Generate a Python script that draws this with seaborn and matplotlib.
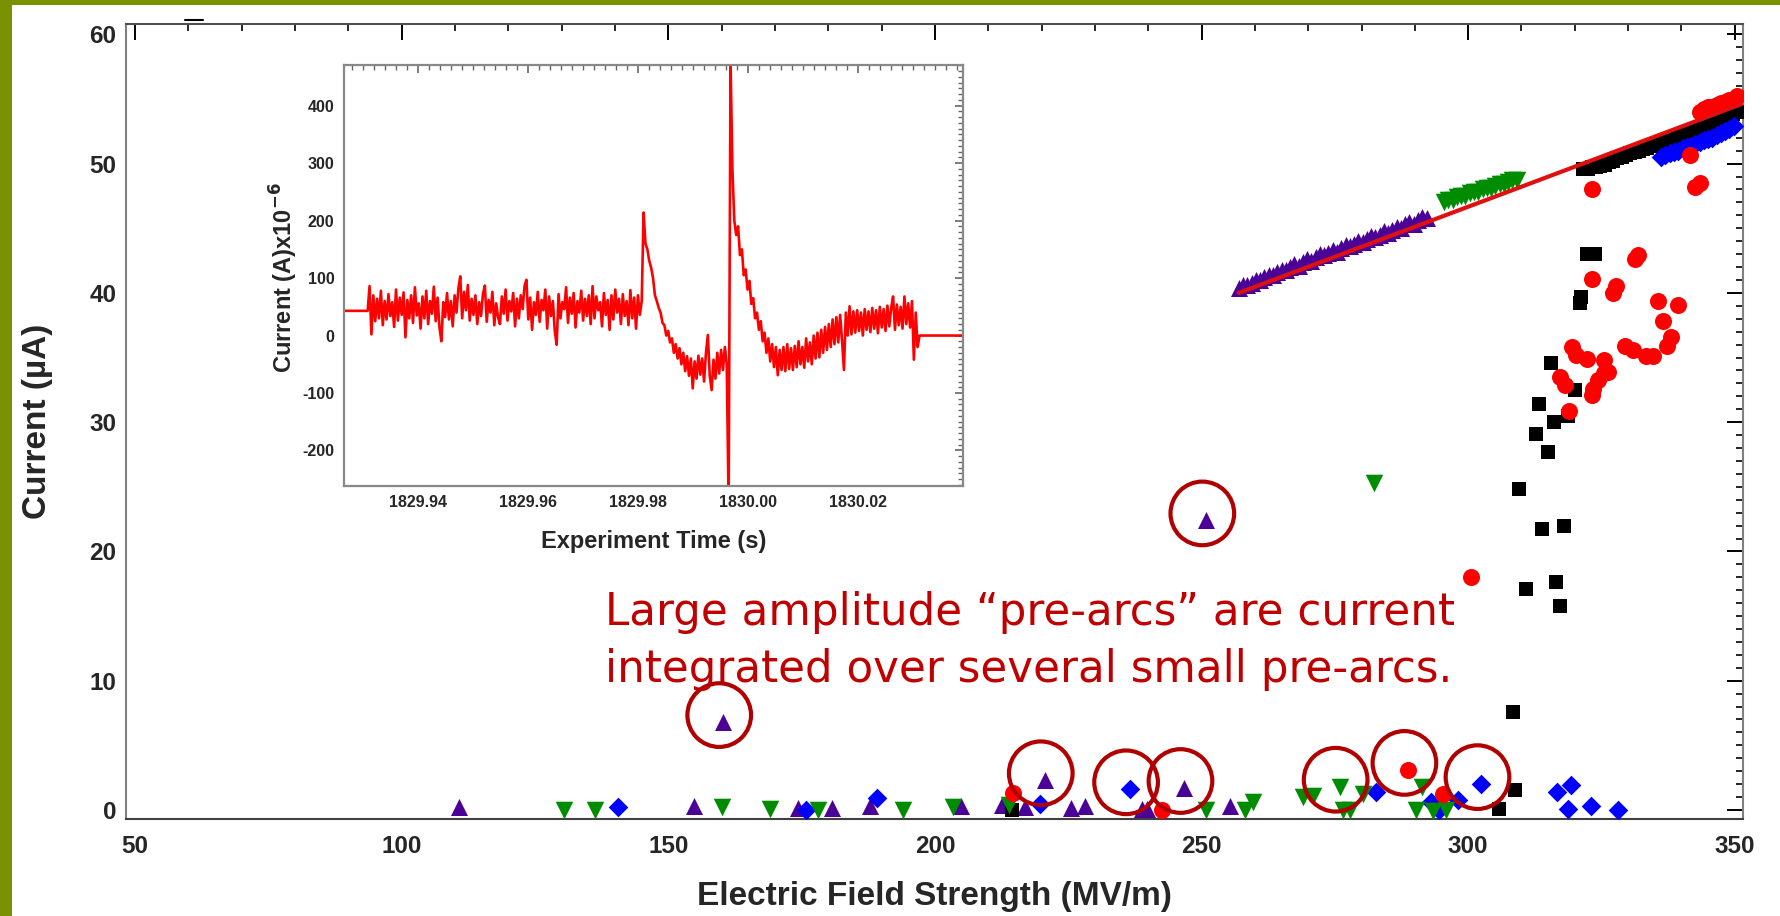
import numpy as np
import pandas as pd
import matplotlib
matplotlib.use("Agg")
import matplotlib.pyplot as plt
import matplotlib.transforms as mtransforms
from matplotlib.lines import Line2D
from matplotlib.patches import Rectangle
from matplotlib.ticker import MultipleLocator, FormatStrFormatter
import seaborn as sns

# ---------------- main panel: current vs. electric field ----------------
purple_x = [110.8, 154.9, 160.3, 174.3, 180.7, 187.9, 204.9, 212.5, 216.9, 220.6,
            225.6, 228.1, 238.8, 239.7, 246.8, 250.9, 255.3,
            257.0, 257.8, 258.6, 259.4, 260.2, 261.0, 261.8, 262.6, 263.4, 264.2,
            265.0, 265.8, 266.6, 267.4, 268.2, 269.0, 269.8, 270.6, 271.4, 272.2,
            273.0, 273.8, 274.6, 275.4, 276.2, 277.0, 277.8, 278.6, 279.4, 280.2,
            281.0, 281.8, 282.6, 283.4, 284.2, 285.0, 285.8, 286.6, 287.4, 288.2,
            289.0, 289.8, 290.6, 291.4, 292.2]
purple_y = [0.2, 0.3, 6.8, 0.15, 0.15, 0.3, 0.3, 0.4, 0.26, 2.3,
            0.13, 0.3, 0.1, 0.05, 1.7, 22.4, 0.3,
            40.4, 40.6, 40.6, 40.8, 41.0, 41.0, 41.2, 41.4, 41.4, 41.6,
            41.8, 41.8, 42.0, 42.2, 42.1, 42.4, 42.6, 42.5, 42.8, 43.0,
            42.9, 43.1, 43.3, 43.2, 43.5, 43.7, 43.6, 43.8, 44.0, 43.9,
            44.2, 44.4, 44.3, 44.5, 44.8, 44.6, 44.9, 45.1, 45.0, 45.3,
            45.5, 45.3, 45.6, 45.9, 45.8]

green_x = [130.5, 136.3, 160.1, 169.0, 178.0, 194.1, 203.3, 213.8, 250.9, 258.1,
           259.7, 269.1, 270.9, 275.9, 276.6, 277.8, 280.3, 282.3, 290.3, 291.3,
           293.4, 295.9,
           295.5, 296.3, 297.1, 297.9, 298.7, 299.5, 300.3, 301.1, 301.9, 302.7,
           303.5, 304.3, 305.1, 305.9, 306.7, 307.5, 308.3, 309.1]
green_y = [0.0, 0.0, 0.2, 0.1, 0.0, 0.0, 0.2, 0.4, 0.0, 0.0,
           0.6, 1.0, 1.1, 1.8, 0.0, 0.0, 1.2, 25.3, 0.0, 1.8,
           -0.1, 0.0,
           47.0, 47.2, 47.2, 47.4, 47.5, 47.5, 47.7, 47.8, 47.8, 48.0,
           48.1, 48.1, 48.3, 48.4, 48.4, 48.6, 48.7, 48.7]

black_x = [214.4, 305.8, 308.8, 308.5,
           309.5, 313.9, 318.0, 310.8, 316.4, 317.3, 315.0, 312.8, 316.1, 313.3,
           318.8, 320.0, 315.6, 321.2, 320.9, 322.2, 323.8,
           321.6, 322.4, 323.2, 324.0, 324.8, 325.6, 326.4, 327.2, 328.0, 328.8,
           329.6, 330.4, 331.2, 332.0, 332.8, 333.6, 334.4, 335.2, 336.0, 336.8,
           337.6, 338.4, 339.2, 340.0, 340.8, 341.6, 342.4, 343.2, 344.0, 344.8,
           345.6, 346.4, 347.2, 348.0, 348.8, 349.6, 350.4]
black_y = [0.0, 0.1, 1.55, 7.6,
           24.8, 21.7, 22.0, 17.1, 17.6, 15.8, 27.7, 29.1, 30.0, 31.4,
           30.5, 32.5, 34.6, 39.7, 39.2, 43.0, 43.0,
           49.6, 49.6, 49.7, 49.7, 49.8, 49.9, 50.1, 50.2, 50.4, 50.5,
           50.7, 50.8, 50.9, 51.0, 51.1, 51.2, 51.4, 51.5, 51.6, 51.7,
           51.9, 52.0, 52.1, 52.2, 52.3, 52.4, 52.6, 52.7, 52.8, 53.0,
           53.1, 53.2, 53.4, 53.5, 53.7, 53.8, 54.0]

blue_x = [140.5, 175.9, 189.2, 219.8, 236.6, 282.8, 293.1, 294.5, 298.1, 302.5,
          316.7, 319.3, 318.8, 323.0, 328.1,
          336.2, 337.0, 337.8, 338.6, 339.4, 340.2, 341.0, 341.8, 342.6, 343.4,
          344.2, 345.0, 345.8, 346.6, 347.4, 348.2, 349.0, 349.8]
blue_y = [0.2, 0.0, 0.9, 0.5, 1.6, 1.4, 0.6, 0.0, 0.8, 2.0,
          1.4, 1.9, 0.05, 0.3, 0.0,
          50.5, 50.7, 50.8, 50.9, 51.0, 51.2, 51.3, 51.4, 51.5, 51.7,
          51.8, 51.9, 52.0, 52.2, 52.4, 52.5, 52.7, 52.9]

red_x = [214.7, 242.5, 288.8, 295.3, 300.5,
         323.3, 343.4, 342.5, 341.6, 331.9, 331.3, 323.2, 327.8, 327.1, 335.6,
         339.4, 336.6, 338.1, 337.2, 329.4, 330.9, 333.4, 334.7, 319.4, 320.3,
         322.2, 325.4, 325.4, 326.3, 324.4, 323.5, 323.2, 317.2, 318.1, 319.0,
         343.4, 344.2, 345.0, 345.8, 346.6, 347.4, 348.2, 349.0, 349.8, 350.4]
red_y = [1.3, 0.0, 3.1, 1.2, 18.0,
         48.0, 48.5, 48.2, 50.7, 42.9, 42.6, 41.1, 40.5, 40.0, 39.4,
         39.1, 37.8, 36.6, 35.9, 35.9, 35.6, 35.1, 35.1, 35.8, 35.2,
         34.9, 34.8, 33.8, 33.9, 33.3, 32.6, 32.1, 33.5, 32.9, 30.9,
         54.0, 54.2, 54.4, 54.4, 54.5, 54.7, 54.8, 54.9, 55.0, 55.2]

# linear fit through the upper branch
fit_x = [257.0, 352.5]
fit_y = [40.0, 54.8]

# highlighted "pre-arc" events
circled_x = [160.3, 220.6, 236.6, 246.8, 250.9, 275.9, 288.8, 302.5]
circled_y = [6.8, 2.3, 1.6, 1.7, 22.4, 1.8, 3.1, 2.0]

note_lines = ["Large amplitude \u201cpre-arcs\u201d are current",
              "integrated over several small pre-arcs."]

# ---------------- inset: recorded current trace ----------------
trace_current = [
    43, 86, 2, 70, 25, 64, 30, 78, 18, 60,
    28, 72, 34, 58, 15, 80, 26, 66, 36, 75,
    -3, 62, 30, 70, 22, 84, 35, 56, 12, 68,
    30, 78, 20, 60, 38, 85, 25, 66, 14, -10,
    58, 32, 74, 28, 60, 16, 70, 40, 82, 103,
    30, 76, 44, 88, 26, 64, 36, 70, 20, 58,
    34, 72, 87, 24, 62, 40, 76, 18, 56, 32,
    20, 68, 38, 80, 26, 60, 42, 74, 16, 64,
    30, 70, 46, 86, 97, 28, 66, 10, 58, 36,
    76, 24, 62, 44, 80, 12, 68, 34, 60, 8,
    -16, 72, 30, 58, 46, 84, 22, 66, 38, 74,
    14, 60, 40, 78, 26, 64, 34, 70, 20, 86,
    30, 68, 44, 58, 16, 74, 36, 62, 10, 70,
    28, 80, 40, 64, 20, 72, 34, 60, 18, 79,
    30, 66, 12, 70, 36, 60,
    214, 160, 150, 130, 118, 100, 70, 60, 48, 40,
    22, 18, 0, 8, -12, -5, -30, -15, -40, -22,
    -50, -30, -62, -36, -70, -40, -92, -45, -75, -35,
    -68, -40, -80, -30, 1, -70, -95, -42, -75, -30,
    -66, -25, -60, -20, -50,
    -300, 480, 289, 200, 175, 190, 140, 150, 105, 115,
    80, 95, 55, 65, 30, 40, 10, 25, -10, 5,
    -30, -5, -45, -15, -55, -20, -69, -25, -60, -20,
    -62, -15, -58, -22, -60, -18, -55, -10, -50, -20,
    -56, -5, -45, -12, -50, 0, -40, 5, -38, 10,
    -30, 15, -25, 20, -20, 28, -15, 32, -12, 36,
    -8, -60, 40, 0, 51, 2, 42, 5, 44, 8,
    40, 0, 46, 10, 42, 6, 48, 12, 44, 4,
    50, 14, 46, 8, 52, 16, 48, 68, 10, 54,
    18, 50, 12, 68, 20, 56, 14, 60, -42, 40,
    -20, 0]
trace_start, trace_end = 1829.9309, 1830.0312
lead_level, tail_level = 43, 0
inset_xlim = (1829.9266, 1830.0391)
inset_ylim = (-261, 470)
inset_xticks = [1829.94, 1829.96, 1829.98, 1830.00, 1830.02]
inset_yticks = [-200, -100, 0, 100, 200, 300, 400]

# ---------------- styling ----------------
sns.set_style("white")
plt.rcParams["font.family"] = ["Liberation Sans", "DejaVu Sans"]
plt.rcParams["font.weight"] = "bold"
plt.rcParams["axes.labelweight"] = "bold"
plt.rcParams["mathtext.default"] = "bf"
plt.rcParams["axes.unicode_minus"] = False

W, H = 1781, 916
fig = plt.figure(figsize=(W / 100, H / 100), dpi=100)
fig.patch.set_facecolor("white")

olive = "#7A9100"
fig.add_artist(Rectangle((0, 0), 12 / W, 1, transform=fig.transFigure,
                         facecolor=olive, edgecolor="none", zorder=10))
fig.add_artist(Rectangle((0, 1 - 5 / H), 1, 5 / H, transform=fig.transFigure,
                         facecolor=olive, edgecolor="none", zorder=10))

ax = fig.add_axes([126 / W, 1 - 819.3 / H, (1743.3 - 126) / W, (819.3 - 24) / H])

series = [
    ("purple", purple_x, purple_y, "#4B0096", "^", 150),
    ("black", black_x, black_y, "#000000", "s", 115),
    ("blue", blue_x, blue_y, "#0000FF", "D", 100),
    ("green", green_x, green_y, "#008C00", "v", 160),
    ("red", red_x, red_y, "#FF0000", "o", 150),
]
for z, (name, xs, ys, col, mk, size) in enumerate(series):
    df = pd.DataFrame({"field": xs, "current": ys})
    sns.scatterplot(data=df, x="field", y="current", ax=ax, color=col,
                    marker=mk, s=size, linewidth=0, zorder=3 + z, legend=False)

fit_df = pd.DataFrame({"field": fit_x, "current": fit_y})
sns.lineplot(data=fit_df, x="field", y="current", ax=ax, color="#E01010",
             lw=3, zorder=10, estimator=None, sort=False)

ring_tr = mtransforms.offset_copy(ax.transData, fig=fig, x=-4, y=7, units="dots")
ax.scatter(circled_x, circled_y, s=2100, facecolors="none", edgecolors="#B00000",
           linewidths=3, transform=ring_tr, zorder=12)

ax.set_xlim(48.3, 351.6)
ax.set_ylim(-0.72, 60.8)
ax.xaxis.set_major_locator(MultipleLocator(50))
ax.xaxis.set_minor_locator(MultipleLocator(10))
ax.yaxis.set_major_locator(MultipleLocator(10))
ax.yaxis.set_minor_locator(MultipleLocator(1))
ax.tick_params(which="both", direction="in", top=True, right=True,
               labeltop=False, labelright=False, color="black")
ax.tick_params(which="major", length=11.5, width=1.4, labelsize=17.5)
ax.tick_params(axis="x", which="major", pad=11)
ax.tick_params(axis="y", which="major", pad=7)
ax.tick_params(which="minor", length=5, width=1.2)
for side, col in [("left", "#808080"), ("right", "#808080"),
                  ("bottom", "#404040"), ("top", "#505050")]:
    ax.spines[side].set_color(col)
    ax.spines[side].set_linewidth(1.5)

ax.set_xlabel("Electric Field Strength (MV/m)", fontsize=24, va="baseline")
ax.xaxis.set_label_coords(0.5, -0.108)
ax.set_ylabel("Current (\u00b5A)", fontsize=24, va="center")
ax.yaxis.set_label_coords(-0.055, 0.5)

fig.add_artist(Line2D([185 / W, 203 / W], [1 - 20 / H, 1 - 20 / H],
                      color="black", lw=1.5))

for i, line in enumerate(note_lines):
    fig.text(605 / W, 1 - (625 + 57 * i) / H, line, color="#C00000",
             fontsize=31.4, fontweight="normal", family="DejaVu Sans",
             ha="left", va="baseline", zorder=20)

# ---------------- inset ----------------
axin = fig.add_axes([344 / W, 1 - 485.5 / H, 619 / W, 420 / H])
axin.set_facecolor("white")
t = np.linspace(trace_start, trace_end, len(trace_current))
trace_df = pd.DataFrame({
    "time": np.concatenate([[inset_xlim[0]], t, [inset_xlim[1]]]),
    "current": np.concatenate([[lead_level], trace_current, [tail_level]]),
})
sns.lineplot(data=trace_df, x="time", y="current", ax=axin, color="#FF0000",
             lw=1.9, estimator=None, sort=False)
axin.set_xlim(*inset_xlim)
axin.set_ylim(*inset_ylim)
axin.set_xticks(inset_xticks)
axin.set_yticks(inset_yticks)
axin.xaxis.set_major_formatter(FormatStrFormatter("%.2f"))
axin.xaxis.set_minor_locator(MultipleLocator(0.002))
axin.yaxis.set_minor_locator(MultipleLocator(10))
axin.tick_params(which="both", direction="in", top=True, right=True,
                 labeltop=False, labelright=False, color="#666666")
axin.tick_params(which="major", length=6, width=1.2, labelsize=11.5, pad=7)
axin.tick_params(which="minor", length=3.5, width=1.0)
for side in axin.spines:
    axin.spines[side].set_color("#888888")
    axin.spines[side].set_linewidth(1.6)
axin.set_xlabel("Experiment Time (s)", fontsize=17, va="center")
axin.xaxis.set_label_coords(0.5, -0.1345)
axin.set_ylabel(r"Current (A)x10$^{-6}$", fontsize=17, va="center")
axin.yaxis.set_label_coords(-0.097, 0.494)

fig.savefig("out.png", dpi=100, facecolor="white")
